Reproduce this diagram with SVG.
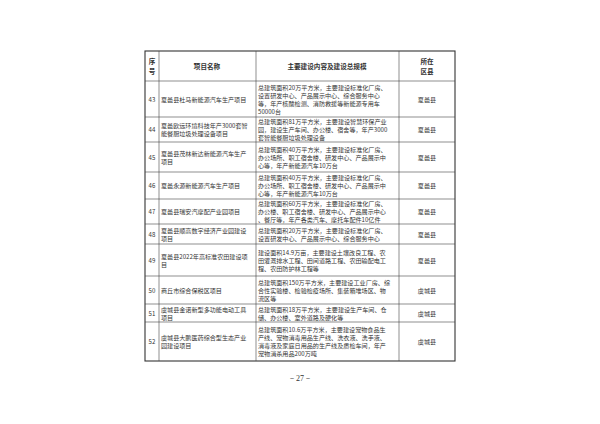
<svg xmlns="http://www.w3.org/2000/svg" width="600" height="424" viewBox="0 0 600 424">
<style>
text{font-family:"Noto Sans CJK SC","Liberation Serif",serif;font-size:6.1px;fill:#333;dominant-baseline:central}
.c{text-anchor:middle}
.h{font-weight:bold;font-size:6.6px}
.g line{stroke:#444;stroke-width:0.6}
</style>
<rect width="600" height="424" fill="#fff"/>
<g id="grid" class="g">
<rect x="145" y="51" width="310" height="310" fill="none" stroke="#333" stroke-width="1.1"/>
<line x1="159" y1="51" x2="159" y2="361"/>
<line x1="256" y1="51" x2="256" y2="361"/>
<line x1="399" y1="51" x2="399" y2="361"/>
<line x1="145" y1="81" x2="455" y2="81"/>
<line x1="145" y1="117" x2="455" y2="117"/>
<line x1="145" y1="142" x2="455" y2="142"/>
<line x1="145" y1="172" x2="455" y2="172"/>
<line x1="145" y1="199" x2="455" y2="199"/>
<line x1="145" y1="224" x2="455" y2="224"/>
<line x1="145" y1="244" x2="455" y2="244"/>
<line x1="145" y1="276" x2="455" y2="276"/>
<line x1="145" y1="304" x2="455" y2="304"/>
<line x1="145" y1="322" x2="455" y2="322"/>
</g>
<g id="header">
<text class="c h" x="152" y="61">序</text><text class="c h" x="152" y="71">号</text>
<text class="c h" x="207" y="66">项目名称</text>
<text class="c h" x="327" y="66">主要建设内容及建设总规模</text>
<text class="c h" x="427" y="61">所在</text><text class="c h" x="427" y="71">区县</text>
</g>
<g id="r43">
<text class="c" x="152" y="99">43</text>
<text x="161" y="99">夏邑县杜马新能源汽车生产项目</text>
<text x="258" y="87">总建筑面积20万平方米，主要建设标准化厂房、</text>
<text x="258" y="95">设置研发中心、产品展示中心、综合服务中心</text>
<text x="258" y="103">等，年产核酸检测、消防救援等新能源专用车</text>
<text x="258" y="111">50000台</text>
<text class="c" x="427" y="99">夏邑县</text>
</g>
<g id="r44">
<text class="c" x="152" y="129.5">44</text>
<text x="161" y="125.5">夏邑欧远环境科技年产3000套智</text>
<text x="161" y="133.5">能餐厨垃圾处理设备项目</text>
<text x="258" y="121.5">总建筑面积81万平方米，主要建设智慧环保产业</text>
<text x="258" y="129.5">园，建设生产车间、办公楼、宿舍等，年产3000</text>
<text x="258" y="137.5">套智能餐厨垃圾处理设备</text>
<text class="c" x="427" y="129.5">夏邑县</text>
</g>
<g id="r45">
<text class="c" x="152" y="157">45</text>
<text x="161" y="153">夏邑县茂林新达新能源汽车生产</text>
<text x="161" y="161">项目</text>
<text x="258" y="149">总建筑面积40万平方米，主要建设标准化厂房、</text>
<text x="258" y="157">办公场所、职工宿舍楼、研发中心、产品展示中</text>
<text x="258" y="165">心等，年产新能源汽车10万台</text>
<text class="c" x="427" y="157">夏邑县</text>
</g>
<g id="r46">
<text class="c" x="152" y="185.5">46</text>
<text x="161" y="185.5">夏邑永源新能源汽车生产项目</text>
<text x="258" y="177.5">总建筑面积40万平方米，主要建设标准化厂房、</text>
<text x="258" y="185.5">办公场所、职工宿舍楼、研发中心、产品展示中</text>
<text x="258" y="193.5">心等，年产新能源汽车10万台</text>
<text class="c" x="427" y="185.5">夏邑县</text>
</g>
<g id="r47">
<text class="c" x="152" y="211.5">47</text>
<text x="161" y="211.5">夏邑县瑞安汽摩配产业园项目</text>
<text x="258" y="203.5">总建筑面积60万平方米，主要建设标准化厂房、</text>
<text x="258" y="211.5">办公楼、职工宿舍楼、研发中心、产品展示中心</text>
<text x="258" y="219.5">、餐厅等，年产各类汽车、摩托车配件10亿件</text>
<text class="c" x="427" y="211.5">夏邑县</text>
</g>
<g id="r48">
<text class="c" x="152" y="234">48</text>
<text x="161" y="230">夏邑县顺高数字经济产业园建设</text>
<text x="161" y="238">项目</text>
<text x="258" y="230">总建筑面积20万平方米，主要建设标准化厂房、</text>
<text x="258" y="238">设置研发中心、产品展示中心、综合服务中心</text>
<text class="c" x="427" y="234">夏邑县</text>
</g>
<g id="r49">
<text class="c" x="152" y="260">49</text>
<text x="161" y="256">夏邑县2022年高标准农田建设项</text>
<text x="161" y="264">目</text>
<text x="258" y="252">建设面积14.9万亩，主要建设土壤改良工程、农</text>
<text x="258" y="260">田灌溉排水工程、田间道路工程、农田输配电工</text>
<text x="258" y="268">程、农田防护林工程等</text>
<text class="c" x="427" y="260">夏邑县</text>
</g>
<g id="r50">
<text class="c" x="152" y="290">50</text>
<text x="161" y="290">商丘市综合保税区项目</text>
<text x="258" y="282">总建筑面积150万平方米，主要建设工业厂房、综</text>
<text x="258" y="290">合性实验楼、检验检疫场所、集装箱堆场区、物</text>
<text x="258" y="298">流区等</text>
<text class="c" x="427" y="290">虞城县</text>
</g>
<g id="r51">
<text class="c" x="152" y="313">51</text>
<text x="161" y="309">虞城县金诺新型多功能电动工具</text>
<text x="161" y="317">项目</text>
<text x="258" y="309">总建筑面积18万平方米，主要建设生产车间、仓</text>
<text x="258" y="317">储、办公楼、室外道路及硬化等</text>
<text class="c" x="427" y="313">虞城县</text>
</g>
<g id="r52">
<text class="c" x="152" y="341.5">52</text>
<text x="161" y="337.5">虞城县大鹏医药综合型生态产业</text>
<text x="161" y="345.5">园建设项目</text>
<text x="258" y="329.5">总建筑面积10.6万平方米，主要建设宠物食品生</text>
<text x="258" y="337.5">产线、宠物消毒用品生产线、洗衣液、洗手液、</text>
<text x="258" y="345.5">消毒液及家庭日用品的生产线及质检车间，年产</text>
<text x="258" y="353.5">宠物消杀用品200万吨</text>
<text class="c" x="427" y="341.5">虞城县</text>
</g>
<text class="c" x="300" y="378" style="font-size:8px;font-family:'Liberation Serif',serif">－27－</text>
</svg>
